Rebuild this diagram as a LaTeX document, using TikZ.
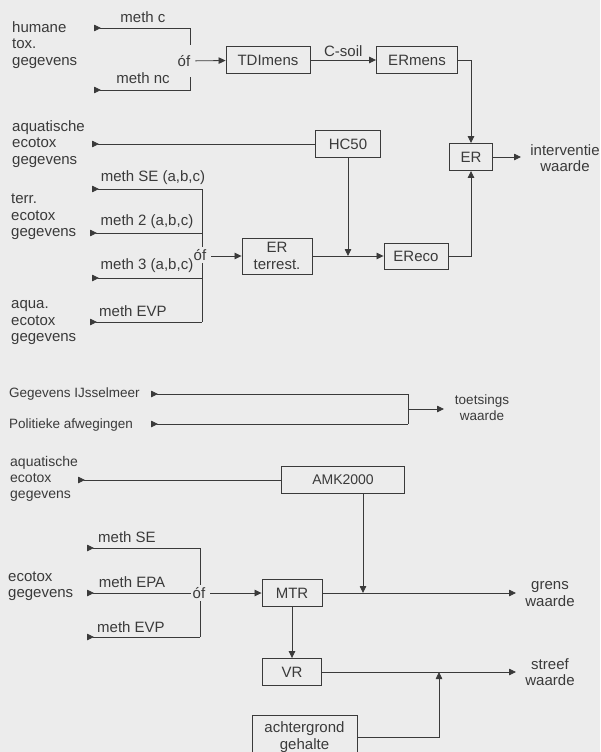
\documentclass[tikz,border=0pt]{standalone}
\usepackage{fontspec}
\setmainfont{Liberation Sans}
\usetikzlibrary{arrows.meta}
\definecolor{bg}{HTML}{ECECEC}
\definecolor{ink}{HTML}{3A3A3A}
\begin{document}
\begin{tikzpicture}[x=1pt,y=-1pt,
  every node/.style={text=ink, font=\fontsize{15}{16.5}\selectfont, inner sep=0pt},
  small/.style={font=\fontsize{13.5}{16}\selectfont},
  mid/.style={font=\fontsize{14}{16}\selectfont},
  box/.style={draw=ink, line width=0.9pt, minimum height=27pt},
  lbl/.style={anchor=west, align=left},
  ctr/.style={align=center},
  ln/.style={draw=ink, line width=0.8pt},
  arr/.style={ln, -{Triangle[length=7pt,width=6.5pt]}},
  inp/.style={ln, {Triangle[reversed,length=7pt,width=6.5pt]}-},
  orn/.style={fill=bg, inner sep=2pt}
]
\useasboundingbox (0,0) rectangle (600,752);
\fill[bg] (0,0) rectangle (600,752);

% ---------- top: humane tox ----------
\node[lbl] (hum) at (12,45) {humane\\tox.\\gegevens};
\coordinate (mc0) at (94,28); \coordinate (mc1) at (190,28); \coordinate (mc2) at (190,45);
\coordinate (mn0) at (94,90); \coordinate (mn1) at (190,90); \coordinate (mn2) at (190,77);
\draw[inp] (mc0) -- (mc1) -- (mc2);
\draw[inp] (mn0) -- (mn1) -- (mn2);
\node at (143,17) {meth c};
\node at (143,78) {meth nc};
\node (of1) at (184,61) {óf};

\node[box, minimum width=84pt] (tdi) at (268,60) {TDImens};
\node[box, minimum width=81pt] (erm) at (417,60) {ERmens};
\node[box, minimum width=43pt] (er) at (471,157) {ER};
\node[box, minimum width=65pt] (hc) at (348,144) {HC50};
\node[box, minimum width=70pt, minimum height=36pt, ctr] (ert) at (277,256) {ER\\terrest.};
\node[box, minimum width=64pt, minimum height=26pt] (ereco) at (416,256) {EReco};
\coordinate (j1) at (348,256);

\draw[arr, shorten <=5pt] (of1) -- (tdi);
\draw[arr] (tdi) -- node[above=3pt] {C-soil} (erm);
\draw[arr] (erm) -| (er);
\draw[arr] (ereco) -| (er);
\node[ctr] (iw) at (565,158) {interventie\\waarde};
\coordinate (iwa) at (521,157);
\draw[arr] (er) -- (iwa);

% aquatische -> HC50
\node[lbl] (aq1) at (12,144) {aquatische\\ecotox\\gegevens};
\coordinate (aqm) at (92,144);
\draw[inp] (aqm) -- (hc);
\draw[arr] (hc) -- (j1);
\draw[arr] (ert) -- (ereco);

% methods block
\node[lbl] (terr) at (11,217) {terr.\\ecotox\\gegevens};
\node[lbl] (aqua) at (11,323) {aqua.\\ecotox\\gegevens};
\coordinate (s0) at (92,189); \coordinate (s1) at (202,189);
\coordinate (t0) at (90,233); \coordinate (t1) at (202,233);
\coordinate (u0) at (92,278); \coordinate (u1) at (202,278);
\coordinate (v0) at (90,322); \coordinate (v1) at (202,322);
\draw[inp] (s0) -- (s1);
\draw[inp] (t0) -- (t1);
\draw[inp] (u0) -- (u1);
\draw[inp] (v0) -- (v1);
\draw[ln] (s1) -- (v1);
\node at (153,178) {meth SE (a,b,c)};
\node at (147,222) {meth 2 (a,b,c)};
\node at (147,266) {meth 3 (a,b,c)};
\node at (133,311) {meth EVP};
\node[orn] (of2) at (200,255) {óf};
\draw[arr, shorten <=3pt] (of2.east |- ert) -- (ert);

% ---------- middle: toetsingswaarde ----------
\node[lbl, small] (gij) at (9,394) {Gegevens IJsselmeer};
\node[lbl, small] (pol) at (9,425) {Politieke afwegingen};
\coordinate (g0) at (151,394); \coordinate (g1) at (408,394);
\coordinate (p0) at (151,424); \coordinate (p1) at (408,424);
\draw[inp] (g0) -- (g1) -- (p1);
\draw[inp] (p0) -- (p1);
\coordinate (tj) at (408,409);
\coordinate (twa) at (444,409);
\draw[arr] (tj) -- (twa);
\node[ctr, small] (tw) at (482,408) {toetsings\\waarde};

% ---------- bottom ----------
\node[lbl, mid] (aq2) at (10,479) {aquatische\\ecotox\\gegevens};
\node[box, minimum width=123pt, mid] (amk) at (343,480) {AMK2000};
\coordinate (am) at (78,480);
\draw[inp] (am) -- (amk);
\coordinate (j2) at (363,593);
\draw[arr] (amk.south -| j2) -- (j2);

\node[lbl] (eco) at (8,586) {ecotox\\gegevens};
\coordinate (a0) at (87,548); \coordinate (a1) at (200,548);
\coordinate (b0) at (87,593); \coordinate (b1) at (200,593);
\coordinate (c0) at (87,637); \coordinate (c1) at (200,637);
\draw[inp] (a0) -- (a1);
\draw[inp] (b0) -- (b1);
\draw[inp] (c0) -- (c1);
\draw[ln] (a1) -- (c1);
\node at (127,537) {meth SE};
\node at (132,582) {meth EPA};
\node at (131,627) {meth EVP};
\node[orn] (of3) at (199,593) {óf};

\node[box, minimum width=60pt] (mtr) at (292,593) {MTR};
\node[box, minimum width=59pt] (vr) at (292,672) {VR};
\node[box, minimum width=105pt, minimum height=44pt, ctr] (ach) at (304.5,737) {achtergrond\\gehalte};
\draw[arr, shorten <=3pt] (of3) -- (mtr);

\coordinate (gwa) at (516,593);
\draw[arr] (mtr) -- (gwa);
\node[ctr] (gw) at (550,594) {grens\\waarde};
\draw[arr] (mtr) -- (vr);

\coordinate (j3) at (439,672);
\coordinate (swa) at (516,672);
\draw[arr] (vr) -- (swa);
\node[ctr] (sw) at (550,672) {streef\\waarde};
\draw[arr] (ach) -| (j3);
\end{tikzpicture}
\end{document}
